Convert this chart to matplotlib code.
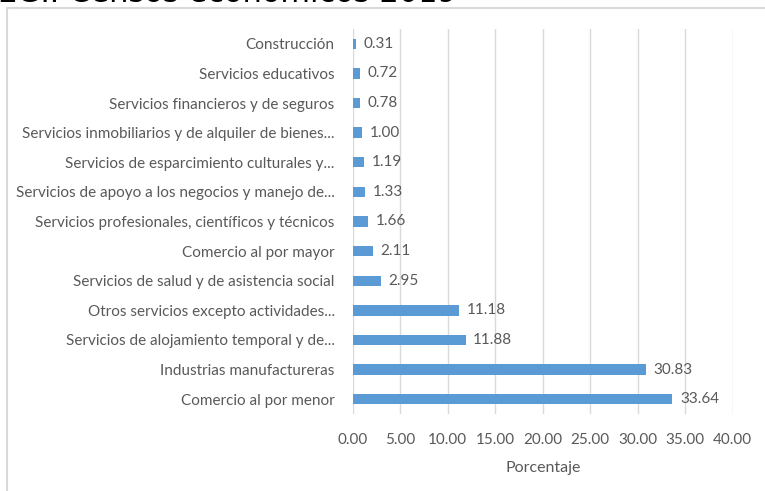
import matplotlib
matplotlib.use("Agg")
import matplotlib.pyplot as plt
from matplotlib.patches import Rectangle

categories = [
    "Construcción",
    "Servicios educativos",
    "Servicios financieros y de seguros",
    "Servicios inmobiliarios y de alquiler de bienes...",
    "Servicios de esparcimiento culturales y...",
    "Servicios de apoyo a los negocios y manejo de...",
    "Servicios profesionales, científicos y técnicos",
    "Comercio al por mayor",
    "Servicios de salud y de asistencia social",
    "Otros servicios excepto actividades...",
    "Servicios de alojamiento temporal y de...",
    "Industrias manufactureras",
    "Comercio al por menor",
]
values = [0.31, 0.72, 0.78, 1.00, 1.19, 1.33, 1.66, 2.11, 2.95, 11.18, 11.88, 30.83, 33.64]
xticks = [0, 5, 10, 15, 20, 25, 30, 35, 40]
title = "INEGI. Censos económicos 2019"
xlabel = "Porcentaje"

W, H = 765, 491
fig = plt.figure(figsize=(W / 100, H / 100), dpi=100)
plt.rcParams['font.family'] = ['Lato', 'DejaVu Sans']

# outer chart frame
fig.patches.append(Rectangle((7 / W, -0.1), 1.2, 1 - 8 / H + 0.1, transform=fig.transFigure,
                             fill=False, edgecolor="#D9D9D9", linewidth=1.5))

# clipped title at top (only its lower edge is visible, as in the reference)
fig.text(457 / W, 1 - 2.5 / H, title, ha="right", va="baseline", fontsize=22,
         color="black", family=["DejaVu Sans"])

ax = fig.add_axes([352.7 / W, 1 - 414 / H, (732.7 - 352.7) / W, (414 - 29) / H])
gray = "#595959"
n = len(categories)
ypos = list(range(n - 1, -1, -1))
ax.barh(ypos, values, height=0.35, color="#5B9BD5", zorder=3)
for y, v in zip(ypos, values):
    ax.text(v + 0.8, y, f"{v:.2f}", va="center", ha="left", fontsize=11, color=gray)

ax.set_xlim(0, 40)
ax.set_ylim(-0.5, n - 0.5)
ax.set_xticks(xticks)
ax.set_xticklabels([f"{t:.2f}" for t in xticks])
ax.set_yticks(ypos)
ax.set_yticklabels(categories)
ax.tick_params(axis="x", length=0, pad=14, labelsize=11, labelcolor=gray)
ax.tick_params(axis="y", length=0, pad=13, labelsize=11, labelcolor=gray)
ax.grid(axis="x", color="#D9D9D9", linewidth=1, zorder=0)
for s in ax.spines.values():
    s.set_visible(False)
ax.set_xlabel(xlabel, fontsize=11.5, color=gray, labelpad=10)

fig.savefig("out.png", dpi=100)
